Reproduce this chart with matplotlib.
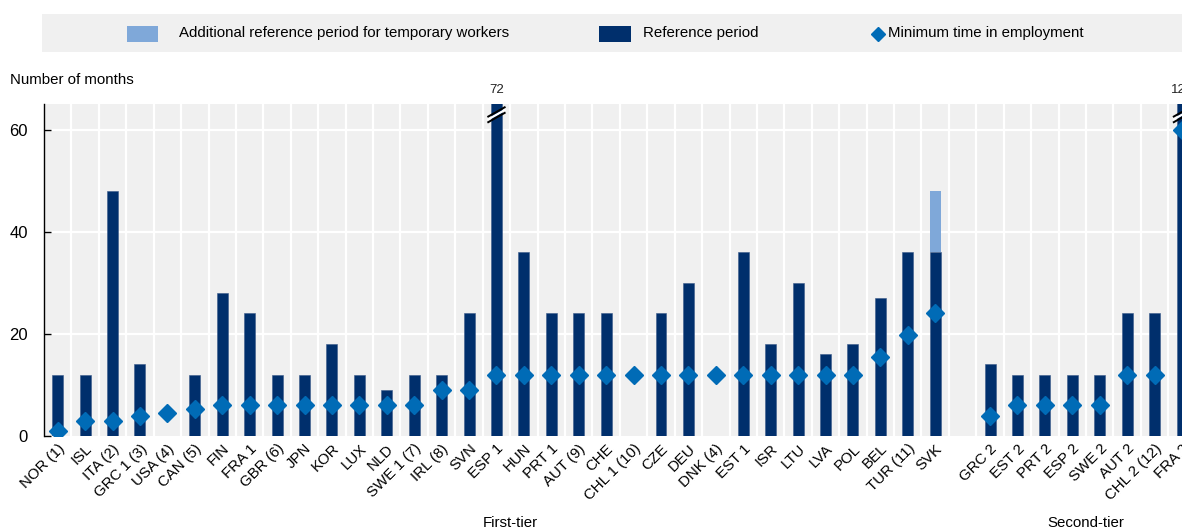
import numpy as np
import matplotlib
matplotlib.use("Agg")
import matplotlib.pyplot as plt
from matplotlib.patches import Rectangle
from matplotlib.lines import Line2D

plt.rcParams['font.family'] = ['Liberation Sans', 'DejaVu Sans']

# ---------------- data ----------------
first_tier = ["NOR (1)", "ISL", "ITA (2)", "GRC 1 (3)", "USA (4)", "CAN (5)", "FIN", "FRA 1",
              "GBR (6)", "JPN", "KOR", "LUX", "NLD", "SWE 1 (7)", "IRL (8)", "SVN", "ESP 1",
              "HUN", "PRT 1", "AUT (9)", "CHE", "CHL 1 (10)", "CZE", "DEU", "DNK (4)", "EST 1",
              "ISR", "LTU", "LVA", "POL", "BEL", "TUR (11)", "SVK"]
second_tier = ["GRC 2", "EST 2", "PRT 2", "ESP 2", "SWE 2", "AUT 2", "CHL 2 (12)", "FRA 2"]

ref_first = [12, 12, 48, 14, np.nan, 12, 28, 24, 12, 12, 18, 12, 9, 12, 12, 24, 72,
             36, 24, 24, 24, np.nan, 24, 30, np.nan, 36, 18, 30, 16, 18, 27, 36, 36]
extra_first = [0] * 32 + [12]
min_first = [1, 3, 3, 4, 4.5, 5.2, 6, 6, 6, 6, 6, 6, 6, 6, 9, 9, 12,
             12, 12, 12, 12, 12, 12, 12, 12, 12, 12, 12, 12, 12, 15.5, 19.7, 24]

ref_second = [14, 12, 12, 12, 12, 24, 24, 120]
extra_second = [0, 0, 0, 0, 0, 0, 0, 0]
min_second = [4, 6, 6, 6, 6, 12, 12, 60]

yticks = [0, 20, 40, 60]
ymax = 65

# ---------------- layout ----------------
n1, n2 = len(first_tier), len(second_tier)
x_first = np.arange(n1)
x_second = np.arange(n2) + n1 + 1
x_all = np.concatenate([x_first, x_second])
labels = first_tier + second_tier
ref = np.array(ref_first + ref_second, dtype=float)
extra = np.array(extra_first + extra_second, dtype=float)
mins = np.array(min_first + min_second, dtype=float)

navy = "#002f6c"
light = "#7fa8d9"
diam = "#006bb6"
bg = "#f0f0f0"
fs = 10.8

fig = plt.figure(figsize=(11.82, 5.32), dpi=100)
ax = fig.add_axes([44 / 1182, 1 - 436 / 532, 1 - 44 / 1182, (436 - 104) / 532])
ax.set_facecolor(bg)

xmin, xmax = -0.5, 41.0
ax.set_xlim(xmin, xmax)
ax.set_ylim(0, ymax)

# grid
for g in np.arange(-0.5, x_all.max() + 1.0, 1.0):
    ax.axvline(g, color="white", lw=1.6, zorder=1)
for t in yticks[1:]:
    ax.axhline(t, color="white", lw=1.6, zorder=1)

w = 0.4
ref_plot = np.where(np.isnan(ref), 0, ref)
ax.bar(x_all, ref_plot, width=w, color=navy, zorder=2, edgecolor="#3a5a8a", linewidth=0.4)
ax.bar(x_all, extra, bottom=ref_plot, width=w, color=light, zorder=2, linewidth=0)
ax.plot(x_all, mins, linestyle="none", marker="D", ms=9.5, color=diam, zorder=4,
        markeredgecolor=diam, clip_on=True)

# break marks and labels for clipped bars
for xi, v in zip(x_all, ref):
    if not np.isnan(v) and v > ymax:
        yb = 62.9
        for dy in (-0.55, 0.55):
            ax.plot([xi - 0.33, xi + 0.33], [yb - 1.0 + dy, yb + 1.0 + dy], color="black",
                    lw=1.4, zorder=5, clip_on=False, solid_capstyle="butt")
        ax.plot([xi - 0.33, xi + 0.33], [yb - 1.0, yb + 1.0], color="white",
                lw=1.6, zorder=4.5, clip_on=False, solid_capstyle="butt")
        ax.annotate(f"{v:g}", xy=(xi, ymax), xytext=(0, 5.5), textcoords="offset points",
                    ha="center", va="bottom", fontsize=9.5, color="#222222",
                    annotation_clip=False)

# axes styling
for s in ["top", "right", "bottom"]:
    ax.spines[s].set_visible(False)
ax.spines["left"].set_color("black")
ax.spines["left"].set_linewidth(1.0)
ax.set_yticks(yticks)
ax.tick_params(axis="y", direction="in", length=5, pad=11.5, labelsize=12, width=1.0)
ax.set_xticks(x_all)
ax.set_xticklabels(labels, rotation=45, ha="right", rotation_mode="anchor", fontsize=fs)
ax.tick_params(axis="x", length=0, pad=4)

fig.text(10 / 1182, 1 - 80 / 532, "Number of months", fontsize=fs, va="center", ha="left")

# tier labels
tr = ax.get_xaxis_transform()
ax.text((-0.5 + n1 + 0.5) / 2, -0.262, "First-tier", transform=tr, ha="center", va="center",
        fontsize=fs, clip_on=False)
ax.text((x_second[0] - 0.5 + x_second[-1] + 0.5) / 2, -0.262, "Second-tier", transform=tr,
        ha="center", va="center", fontsize=fs, clip_on=False)

# legend box
fig.patches.append(Rectangle((42 / 1182, 1 - 52 / 532), 1140 / 1182, 38 / 532,
                             transform=fig.transFigure, facecolor=bg, edgecolor="none"))
ly = 1 - 33.5 / 532
fig.patches.append(Rectangle((127 / 1182, ly - 8 / 532), 31 / 1182, 16 / 532,
                             transform=fig.transFigure, facecolor=light, edgecolor="none"))
fig.text(179 / 1182, ly, "Additional reference period for temporary workers", fontsize=fs,
         va="center", ha="left")
fig.patches.append(Rectangle((599 / 1182, ly - 8 / 532), 32 / 1182, 16 / 532,
                             transform=fig.transFigure, facecolor=navy, edgecolor="none"))
fig.text(643 / 1182, ly, "Reference period", fontsize=fs, va="center", ha="left")
fig.lines.append(Line2D([878 / 1182], [ly], transform=fig.transFigure, marker="D", ms=7,
                        color=diam, linestyle="none"))
fig.text(888 / 1182, ly, "Minimum time in employment", fontsize=fs, va="center", ha="left")

fig.savefig("out.png", dpi=100)
